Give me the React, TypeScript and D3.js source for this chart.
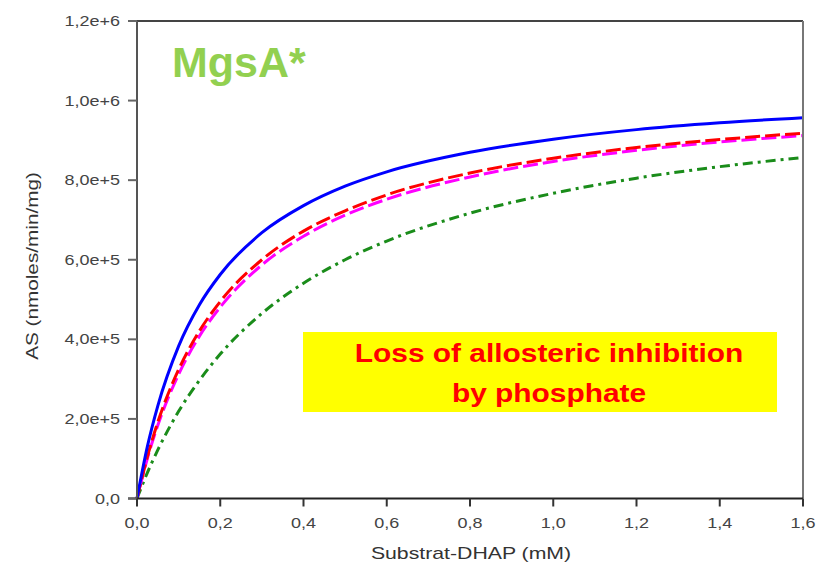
import React from "react";
import * as d3 from "d3";

// Substrate concentration (mM) at which the curves were read
const substrate = [0, 0.025, 0.05, 0.1, 0.15, 0.2, 0.3, 0.4, 0.5, 0.6, 0.8, 1.0, 1.2, 1.4, 1.6];
// Activity values (nmoles/min/mg)
const blueSeries = [0, 131000, 233000, 383000, 487000, 563000, 668000, 736000, 785000, 821000, 870000, 903000, 927000, 944000, 957000];
const redSeries = [0, 105000, 192000, 324000, 421000, 495000, 600000, 672000, 723000, 763000, 818000, 855000, 882000, 902000, 918000];
const magentaSeries = [0, 101000, 184000, 312000, 408000, 481000, 587000, 659000, 712000, 752000, 808000, 847000, 875000, 896000, 912000];
const greenSeries = [0, 65000, 122000, 219000, 297000, 363000, 465000, 541000, 600000, 647000, 717000, 767000, 805000, 834000, 857000];

const xTicks = [0, 0.2, 0.4, 0.6, 0.8, 1.0, 1.2, 1.4, 1.6];
const yTicks = [0, 200000, 400000, 600000, 800000, 1000000, 1200000];

const title = "MgsA*";
const xTitle = "Substrat-DHAP (mM)";
const yTitle = "AS (nmoles/min/mg)";
const noteLines = ["Loss of allosteric inhibition", "by phosphate"];

const W = 824;
const H = 573;
const m = { left: 137, right: 803, top: 21, bottom: 498.5 };

const fmtY = (v: number) => (v === 0 ? "0,0" : d3.format(".1e")(v).replace(".", ","));
const fmtX = (v: number) => d3.format(".1f")(v).replace(".", ",");

const FONT = "'Liberation Sans', Arial, sans-serif";

function SText(props: {
  x: number; y: number; sx?: number; rotate?: number; anchor?: string;
  size: number; fill: string; weight?: string; children: React.ReactNode;
}) {
  const { x, y, sx = 1, rotate = 0, anchor = "middle", size, fill, weight = "normal", children } = props;
  return (
    <text
      transform={`translate(${x},${y}) rotate(${rotate}) scale(${sx},1)`}
      textAnchor={anchor}
      fontFamily={FONT}
      fontSize={size}
      fill={fill}
      fontWeight={weight}
    >
      {children}
    </text>
  );
}

export default function App() {
  const x = d3.scaleLinear().domain([0, 1.6]).range([m.left, m.right]);
  const y = d3.scaleLinear().domain([0, 1200000]).range([m.bottom, m.top]);

  const mk = (vals: number[]) =>
    d3
      .line<number>()
      .x((_, i) => x(substrate[i]))
      .y((d) => y(d))
      .curve(d3.curveMonotoneX)(vals) || "";

  const series = [
    { vals: greenSeries, color: "#1a8c1a", dash: "10,5,3,5", off: 0 },
    { vals: magentaSeries, color: "#ff00ff", dash: "15,5", off: 8 },
    { vals: redSeries, color: "#ff0000", dash: "15,5", off: 0 },
    { vals: blueSeries, color: "#0000ff", dash: "", off: 0 },
  ];

  const boxX = x(0.4) - 0.5;
  const boxW = 777 - boxX;
  const boxY = 332;
  const boxH = 80;

  return (
    <svg width={W} height={H} style={{ position: "absolute", left: 0, top: 0, background: "#fff" }}>
      <rect x={0} y={0} width={W} height={H} fill="#fff" />

      {/* note box */}
      <rect x={boxX} y={boxY} width={boxW} height={boxH} fill="#ffff00" />
      {noteLines.map((t, i) => (
        <SText key={t} x={549} y={362 + i * 40} sx={1.15} size={26} fill="#ff0000" weight="bold">
          {t}
        </SText>
      ))}

      {/* curves */}
      {series.map((s, i) => (
        <path
          key={i}
          d={mk(s.vals)}
          fill="none"
          stroke={s.color}
          strokeWidth={3}
          strokeDasharray={s.dash || undefined}
          strokeDashoffset={s.off}
        />
      ))}

      {/* frame */}
      <line x1={m.left} x2={m.right} y1={m.top} y2={m.top} stroke="#444" strokeWidth={2} />
      <line x1={m.right} x2={m.right} y1={m.top} y2={m.bottom} stroke="#777" strokeWidth={2} />
      <line x1={m.left} x2={m.left} y1={m.top} y2={m.bottom} stroke="#555" strokeWidth={2} />
      <line x1={m.left - 9} x2={m.right} y1={m.bottom} y2={m.bottom} stroke="#222" strokeWidth={2} />

      {/* y ticks */}
      {yTicks.map((t) => (
        <g key={t}>
          <line x1={m.left - 9} x2={m.left} y1={y(t)} y2={y(t)} stroke="#666" strokeWidth={2} />
          <SText x={120} y={y(t) + 5} anchor="end" sx={1.2} size={15} fill="#444">
            {fmtY(t)}
          </SText>
        </g>
      ))}

      {/* x ticks */}
      {xTicks.map((t) => (
        <g key={t}>
          <line x1={x(t)} x2={x(t)} y1={m.bottom} y2={m.bottom + 8} stroke="#333" strokeWidth={2} />
          <SText x={x(t)} y={528} sx={1.2} size={15} fill="#444">
            {fmtX(t)}
          </SText>
        </g>
      ))}

      {/* axis titles */}
      <SText x={471} y={559} sx={1.25} size={17} fill="#333">
        {xTitle}
      </SText>
      <SText x={38} y={266} rotate={-90} sx={1.22} size={17} fill="#333">
        {yTitle}
      </SText>

      {/* title */}
      <SText x={172} y={77} anchor="start" size={43} fill="#92d050" weight="bold">
        {title}
      </SText>
    </svg>
  );
}
